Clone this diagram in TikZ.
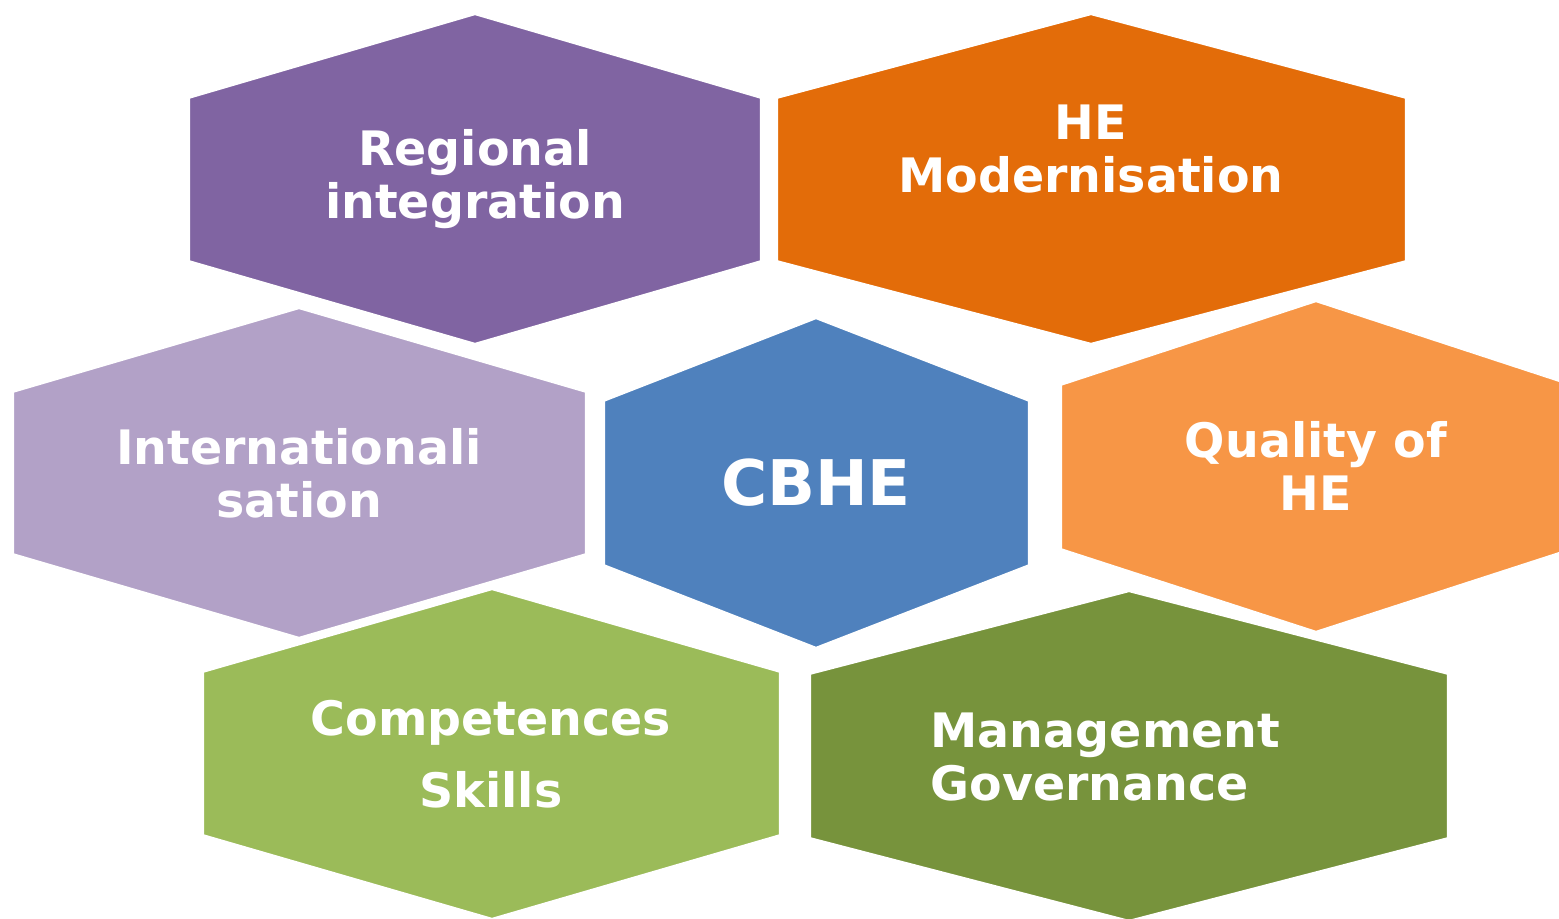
\documentclass[tikz,border=0pt]{standalone}
\usepackage{fontspec}
\setmainfont{DejaVu Sans}
\definecolor{cpurple}{HTML}{8064A2}
\definecolor{corange}{HTML}{E36C09}
\definecolor{clilac}{HTML}{B2A1C7}
\definecolor{cblue}{HTML}{4F81BD}
\definecolor{clightorange}{HTML}{F79646}
\definecolor{clightgreen}{HTML}{9BBB59}
\definecolor{cdarkgreen}{HTML}{77933C}
\tikzset{
  hexa/.style={draw=white, line width=1.2pt, line join=miter},
  lbl/.style={text=white, font=\bfseries\fontsize{13.5}{15}\selectfont, align=center, inner sep=0pt},
  big/.style={text=white, font=\bfseries\fontsize{17.9}{20}\selectfont, inner sep=0pt}
}
\begin{document}
\begin{tikzpicture}[x=0.01cm, y=-0.01cm]
\useasboundingbox (0,0) rectangle (1559,919);
\clip (0,0) rectangle (1559,919);
% hexagons
\fill[cpurple, hexa] (475,13) -- (762,97) -- (762,262) -- (475,345) -- (188,262) -- (188,97) -- cycle;
\fill[corange, hexa] (1091,13) -- (1407,97) -- (1407,262) -- (1091,345) -- (776,262) -- (776,97) -- cycle;
\fill[clilac, hexa] (299,307) -- (587,391) -- (587,555) -- (299,639) -- (12,555) -- (12,391) -- cycle;
\fill[cblue, hexa] (816,317) -- (1030,400) -- (1030,566) -- (816,649) -- (603,566) -- (603,400) -- cycle;
\fill[clightorange, hexa] (1316,300) -- (1572,384) -- (1572,550) -- (1316,633) -- (1060,550) -- (1060,384) -- cycle;
\fill[clightgreen, hexa] (492,588) -- (781,671) -- (781,836) -- (492,920) -- (202,836) -- (202,671) -- cycle;
\fill[cdarkgreen, hexa] (1129,590) -- (1449,673) -- (1449,839) -- (1129,922) -- (809,839) -- (809,673) -- cycle;
% labels
\node[lbl] (regional) at (475,179) {Regional\\integration};
\node[lbl] (modern) at (1091,149) {HE\\Modernisation};
\node[lbl] (intl) at (299,473) {Internationali\\sation};
\node[big] (cbhe) at (816,483) {CBHE};
\node[lbl] (quality) at (1316,466) {Quality of\\HE};
\node[lbl, align=center] (comp) at (491,754) {Competences\\[5.5pt]Skills};
\node[lbl, align=left, anchor=west] (mgmt) at (930,757) {Management\\Governance};
\end{tikzpicture}
\end{document}
